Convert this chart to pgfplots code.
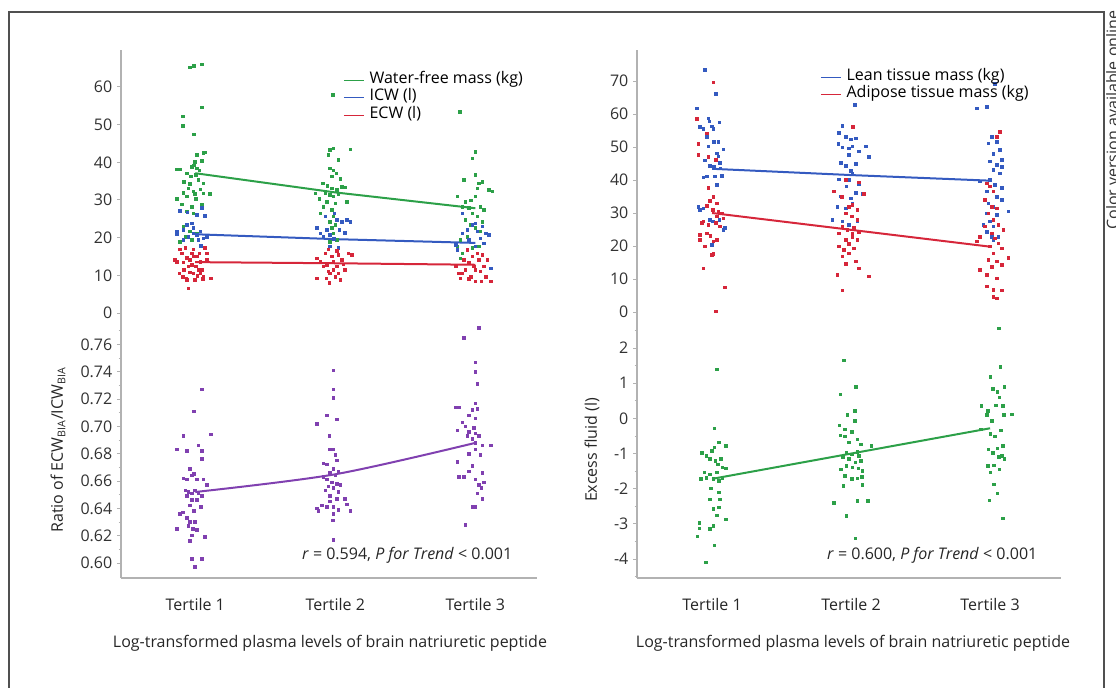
\documentclass[border=0pt]{standalone}
\usepackage{fontspec}
\setmainfont{Open Sans}
\usepackage{pgfplots}
\pgfplotsset{compat=1.18}

\definecolor{cgreen}{RGB}{44,160,72}
\definecolor{cblue}{RGB}{52,90,192}
\definecolor{cred}{RGB}{214,38,58}
\definecolor{cpurple}{RGB}{128,64,176}
\definecolor{axgray}{RGB}{178,178,178}
\definecolor{txtgray}{RGB}{50,50,50}
\definecolor{framegray}{RGB}{80,80,80}

\newcommand{\lbl}{\fontsize{12pt}{14pt}\selectfont}

\pgfplotsset{
  panel/.style={
    scale only axis,
    axis y line*=left,
    axis line style={draw=axgray, line width=0.8pt, -},
    ytick style={draw=axgray, line width=0.7pt},
    xtick style={draw=none},
    major tick length=3pt, minor tick length=1.8pt,
    tick align=outside,
    ticklabel style={font=\lbl, text=txtgray},
    /pgf/number format/assume math mode=true,
    xtick={1,2,3},
    xticklabels={Tertile 1,Tertile 2,Tertile 3},
    xticklabel style={yshift=-9pt, text=black!85},
    clip=false,
    legend cell align=left,
    legend image code/.code={\draw[#1, line width=0.6pt] (0pt,0pt) -- (15pt,0pt);},
    legend style={draw=none, fill=none, inner sep=0pt, font=\lbl,
      nodes={inner sep=0pt, text height=9pt, text depth=4.1pt},
      column sep=4pt, row sep=0pt},
  },
  upper/.style={panel, axis x line=none, height=202.5pt},
  lower/.style={panel, axis x line*=bottom, height=193.5pt},
  dots/.style={only marks, mark=square*, mark size=0.95pt, forget plot,
    color=#1, mark options={draw=#1, fill=#1, line width=0pt}},
  trend/.style={#1, line width=1.5pt, no marks, forget plot},
}

\begin{document}
\begin{tikzpicture}[x=0.75pt, y=0.75pt]
\useasboundingbox (0,0) rectangle (1116,-688);
\coordinate (ul) at (121,-320);
\coordinate (ll) at (121,-578);
\coordinate (ur) at (637,-320);
\coordinate (lr) at (637,-578);

% outer frame
\draw[framegray, line width=1.1pt] (9,-700) -- (9,-12) -- (1104,-12) -- (1104,-700);
\node[rotate=90, anchor=north west, inner sep=0pt, font=\lbl, text=txtgray]
  at (1106,-230) {Color version available online};

% ---------- left, top: body water ----------
\begin{axis}[upper, at={(ul)}, anchor=south west, width=312pt,
  xmin=0.47, xmax=3.44, ymin=-1.86, ymax=69.8,
  ytick={0,10,...,60},
  legend style={at={(0.534,0.922)}, anchor=north west}]
\addplot[dots=cgreen] coordinates {
 (0.964,65.2) (0.993,65.5) (1.048,65.9) (1.048,54.5) (0.912,52.1) (0.912,49.7)
 (0.993,47.4) (1.060,42.4) (1.012,41.9) (1.071,42.6) (1.000,40.1) (1.048,40.4)
 (0.869,38.1) (0.893,38.1) (0.976,38.8) (0.993,39.2) (1.012,38.4) (1.031,37.8)
 (0.940,37.0) (0.969,36.2) (1.007,36.6) (0.921,34.8) (0.964,34.2) (1.024,35.3)
 (1.060,34.4) (0.952,33.1) (0.988,32.2) (1.036,32.8) (0.917,31.9) (1.000,31.6)
 (1.060,31.7) (1.107,31.6) (0.869,30.2) (0.940,30.9) (1.007,30.2) (0.905,28.8)
 (0.976,28.2) (1.048,28.6) (0.940,26.9) (0.988,26.4) (0.917,22.9) (0.964,21.6)
 (1.012,21.1) (0.929,20.2) (0.976,19.4) (0.893,18.9)
 (1.964,43.2) (1.988,43.7) (2.107,43.4) (1.952,41.9) (2.024,40.6) (1.964,38.4)
 (1.988,37.8) (2.007,37.0) (1.976,36.2) (2.036,35.5) (1.912,34.4) (1.945,33.7)
 (1.976,33.1) (2.012,32.6) (2.048,33.5) (2.071,33.3) (1.857,31.7) (1.929,31.9)
 (1.964,31.3) (1.988,30.9) (2.024,31.6) (1.888,30.2) (1.940,29.5) (2.000,29.1)
 (2.083,29.5) (1.917,28.2) (1.976,27.3) (1.893,26.4) (1.988,25.6) (1.964,24.2)
 (2.000,23.3) (1.976,22.5) (1.988,21.1) (1.964,18.9) (2.012,19.4) (1.983,57.8)
 (2.890,53.4) (3.002,42.8) (2.979,41.0) (3.002,36.6) (2.919,35.3) (3.026,34.4)
 (3.050,34.8) (3.098,32.6) (3.121,32.2) (3.014,33.1) (2.871,30.9) (2.931,29.5)
 (2.967,29.9) (3.002,30.9) (2.907,28.2) (2.955,27.8) (3.038,28.2) (3.062,27.3)
 (2.979,26.4) (3.014,25.6) (2.931,24.7) (3.050,24.2) (2.967,23.3) (3.002,22.5)
 (3.038,21.6) (2.943,20.2) (2.895,19.4) (2.871,17.6) (2.979,17.2) (3.026,17.6)
 (2.895,14.5) (2.907,15.8)
};
\addplot[dots=cblue] coordinates {
 (0.893,27.1) (0.945,26.7) (1.012,26.0) (1.048,27.8) (1.071,25.7) (0.869,21.6)
 (0.869,20.9) (0.917,22.0) (0.940,23.3) (0.976,23.8) (0.988,22.5) (1.012,20.7)
 (1.036,21.6) (1.060,19.8) (1.083,20.2) (0.952,20.2) (0.988,21.1) (1.024,19.4)
 (0.917,19.4) (1.040,17.8)
 (1.869,22.5) (1.893,21.1) (1.940,22.0) (1.964,20.7) (2.012,24.7) (2.048,24.2)
 (2.083,24.7) (2.107,24.2) (2.071,21.3) (1.990,19.6) (2.031,22.0) (1.929,25.6)
 (1.993,26.4) (1.917,20.2) (1.964,17.6) (2.024,17.2)
 (2.860,18.0) (2.871,16.7) (2.907,21.1) (2.943,22.0) (2.979,23.3) (3.002,23.8)
 (3.014,21.6) (3.050,22.9) (3.074,21.1) (3.098,20.7) (3.062,18.5) (3.038,19.8)
 (2.955,19.4) (3.002,17.6) (3.110,11.8) (2.907,26.4)
};
\addplot[dots=cred] coordinates {
 (0.857,14.1) (0.869,13.6) (0.893,16.9) (0.905,15.8) (0.921,11.4) (0.936,9.2)
 (0.940,8.8) (0.952,6.5) (0.964,14.1) (0.976,12.7) (0.988,10.5) (0.993,15.0)
 (1.007,12.3) (1.017,9.8) (1.031,15.8) (1.036,13.6) (1.048,11.4) (1.060,9.5)
 (1.071,17.3) (1.083,14.1) (1.055,9.0) (1.112,9.2) (0.888,10.5) (0.912,9.5)
 (0.964,10.7) (1.000,8.8) (0.940,14.6) (0.976,15.8) (1.012,15.0) (0.917,13.4)
 (0.952,12.3) (1.024,11.4) (1.083,15.8) (0.929,17.3) (0.988,16.9) (1.036,10.5)
 (1.869,14.5) (1.893,13.6) (1.929,15.8) (1.940,12.7) (1.952,11.0) (1.964,10.5)
 (1.976,15.0) (1.988,13.6) (2.000,9.6) (2.012,12.3) (2.024,15.4) (2.036,8.8)
 (2.048,14.1) (2.071,11.4) (2.095,15.8) (2.119,15.4) (1.960,7.9) (1.988,11.4)
 (1.936,9.2) (2.024,10.5) (1.917,12.3) (2.060,12.9) (1.869,9.2) (1.952,16.9)
 (2.012,16.5)
 (2.860,12.3) (2.883,10.5) (2.895,9.2) (2.919,14.1) (2.931,11.4) (2.955,13.2)
 (2.967,9.6) (2.979,15.0) (2.990,12.3) (3.002,8.3) (3.014,15.8) (3.026,14.1)
 (3.038,11.0) (3.050,15.4) (3.062,12.3) (3.074,9.6) (3.086,14.1) (3.110,8.3)
 (2.943,16.7) (2.907,10.5) (3.002,11.4) (2.955,9.0) (3.045,8.3)
};
\addplot[trend=cgreen] coordinates {(1,37.1) (2,32.0) (3,27.8)};
\addplot[trend=cblue] coordinates {(1,20.9) (2,19.6) (3,18.6)};
\addplot[trend=cred] coordinates {(1,13.5) (2,13.2) (3,12.8)};
\addlegendimage{cgreen}\addlegendentry{Water-free mass (kg)}
\addlegendimage{cblue}\addlegendentry{ICW (l)}
\addlegendimage{cred}\addlegendentry{ECW (l)}
\end{axis}

% ---------- left, bottom: ECW/ICW ratio ----------
\begin{axis}[lower, at={(ll)}, anchor=south west, width=312pt,
  xmin=0.47, xmax=3.44, ymin=0.589, ymax=0.778,
  ytick={0.60,0.62,...,0.77},
  minor ytick={0.61,0.63,...,0.775},
  yticklabel style={/pgf/number format/.cd, fixed, fixed zerofill, precision=2}]
\addplot[dots=cpurple] coordinates {
 (1.048,0.727) (0.993,0.711) (0.917,0.693) (1.112,0.694) (0.869,0.683) (0.940,0.682)
 (1.024,0.686) (1.048,0.682) (1.048,0.676) (0.964,0.669) (0.917,0.662) (0.940,0.661)
 (0.976,0.664) (0.993,0.665) (1.012,0.661) (1.060,0.661) (1.083,0.657) (0.929,0.653)
 (0.952,0.652) (0.976,0.651) (1.000,0.653) (1.024,0.651) (1.048,0.649) (0.940,0.649)
 (0.976,0.646) (1.012,0.646) (0.964,0.642) (1.040,0.641) (0.893,0.636) (0.912,0.637)
 (0.940,0.633) (0.993,0.638) (0.964,0.630) (1.000,0.630) (0.952,0.627) (0.983,0.625)
 (0.869,0.625) (1.012,0.624) (0.976,0.620) (1.071,0.619) (0.964,0.616) (0.976,0.603)
 (1.048,0.603) (1.000,0.597)
 (1.988,0.741) (1.988,0.727) (1.988,0.721) (1.940,0.708) (2.012,0.705) (1.869,0.702)
 (1.960,0.693) (1.964,0.683) (1.988,0.683) (2.000,0.679) (2.012,0.675) (1.917,0.673)
 (1.940,0.672) (1.988,0.669) (2.024,0.667) (1.964,0.666) (2.000,0.664) (1.917,0.663)
 (1.940,0.661) (1.976,0.659) (2.012,0.658) (2.036,0.657) (1.952,0.656) (1.988,0.655)
 (2.024,0.652) (1.929,0.653) (1.964,0.649) (2.012,0.647) (2.071,0.647) (1.964,0.645)
 (2.083,0.643) (1.905,0.642) (1.940,0.641) (1.988,0.641) (1.869,0.640) (2.024,0.639)
 (1.881,0.638) (1.988,0.636) (2.107,0.638) (1.983,0.631) (1.988,0.617)
 (3.026,0.772) (2.919,0.765) (3.002,0.747) (3.002,0.740) (3.014,0.731) (2.860,0.714)
 (2.883,0.714) (2.979,0.712) (3.002,0.717) (3.014,0.713) (2.955,0.708) (3.002,0.706)
 (2.907,0.703) (2.931,0.700) (2.990,0.699) (2.871,0.697) (2.955,0.696) (3.002,0.695)
 (2.943,0.693) (2.979,0.691) (3.026,0.693) (3.002,0.688) (3.050,0.686) (3.110,0.686)
 (3.002,0.683) (2.955,0.680) (3.038,0.679) (2.871,0.674) (2.979,0.671) (2.955,0.667)
 (3.050,0.666) (2.883,0.663) (2.919,0.663) (3.002,0.661) (3.062,0.659) (3.026,0.657)
 (3.045,0.655) (3.014,0.651) (3.050,0.647) (2.979,0.641) (3.002,0.641) (2.931,0.628)
};
\addplot[trend=cpurple, smooth] coordinates {(1,0.652) (2,0.665) (3,0.688)};
\end{axis}

% ---------- right, top: tissue mass ----------
\begin{axis}[upper, at={(ur)}, anchor=south west, width=318pt,
  xmin=0.46, xmax=3.51, ymin=-2.42, ymax=79.4,
  ytick={0,10,...,70},
  legend style={at={(0.432,0.933)}, anchor=north west}]
\addplot[dots=cblue] coordinates {
 (0.950,73.3) (1.029,66.0) (0.890,61.7) (0.914,56.0) (0.974,58.7) (0.981,57.7)
 (0.998,56.2) (1.053,57.4) (0.938,55.4) (1.010,55.4) (0.962,53.1) (1.014,51.6)
 (1.046,51.6) (0.974,50.1) (1.082,49.3) (1.034,48.1) (0.950,45.9) (1.046,47.1)
 (1.058,45.1) (1.062,43.5) (1.014,44.0) (0.986,44.2) (0.938,40.8) (0.962,41.0)
 (1.022,41.0) (1.070,41.2) (1.034,38.5) (0.902,31.9) (0.914,30.9) (0.938,31.4)
 (0.986,27.9) (1.005,27.4) (1.053,27.9) (1.094,25.4) (1.082,24.8) (0.998,20.3)
 (2.029,62.7) (1.938,56.4) (2.010,56.0) (1.914,54.3) (1.962,53.1) (1.998,52.3)
 (2.034,52.6) (1.909,50.9) (1.938,49.9) (1.986,49.6) (2.010,50.1) (2.106,50.1)
 (2.058,48.6) (1.986,47.6) (2.129,46.9) (1.926,45.1) (1.962,44.2) (2.034,44.8)
 (1.998,42.8) (2.010,41.8) (1.914,40.2) (1.986,40.0) (2.058,38.8) (1.966,38.0)
 (2.034,36.0) (1.926,35.0) (2.082,35.8) (1.998,34.4) (1.902,31.9) (1.962,31.4)
 (2.010,32.9) (1.866,27.9) (1.938,27.4) (2.046,27.4) (1.986,26.4)
 (2.904,61.7) (2.976,62.2) (3.036,69.1) (3.012,53.1) (3.048,51.6) (2.988,51.1)
 (3.072,49.1) (3.024,47.9) (3.084,46.1) (3.000,45.6) (3.048,44.5) (3.084,44.0)
 (3.024,43.0) (3.072,42.0) (3.000,40.0) (2.928,39.5) (3.036,38.5) (3.084,37.5)
 (2.976,36.5) (3.048,34.9) (3.084,33.9) (2.988,32.9) (3.024,31.9) (3.132,30.4)
 (2.976,29.9) (3.048,29.4) (3.000,27.4) (2.952,26.4) (3.024,25.9) (2.976,24.3)
 (3.012,22.8) (3.060,22.8) (3.024,21.8)
};
\addplot[dots=cred] coordinates {
 (1.010,69.5) (0.890,58.5) (0.962,54.1) (0.902,50.9) (0.902,47.6) (0.974,46.9)
 (1.029,46.1) (0.974,37.5) (1.010,34.9) (0.986,33.7) (1.034,32.9) (0.962,32.1)
 (1.005,30.9) (1.046,30.4) (1.070,29.9) (0.938,27.4) (0.926,26.9) (0.974,26.4)
 (1.029,26.9) (1.058,25.9) (0.962,23.8) (0.990,23.0) (0.914,23.3) (1.034,21.8)
 (1.010,21.3) (0.950,19.8) (1.010,17.6) (0.998,17.3) (0.938,13.2) (1.094,7.5)
 (1.029,0.1) (1.034,28.9) (1.082,28.4) (0.914,21.8)
 (2.014,56.0) (1.962,40.0) (2.058,39.2) (1.878,36.5) (1.933,34.8) (2.094,35.8)
 (1.986,31.9) (2.010,32.4) (2.046,30.9) (1.962,29.9) (2.005,28.9) (2.046,27.9)
 (1.938,25.9) (1.974,24.8) (2.022,25.4) (2.058,24.3) (1.914,23.8) (2.010,22.8)
 (1.962,21.8) (2.046,21.8) (1.986,20.6) (1.914,19.8) (2.022,19.3) (1.950,18.8)
 (1.986,17.8) (1.938,16.8) (2.034,15.3) (1.962,14.5) (2.058,13.2) (1.902,11.2)
 (2.129,10.7) (1.938,6.5) (2.010,23.8)
 (3.072,54.6) (3.048,53.1) (2.976,39.0) (3.000,38.0) (3.024,36.5) (2.964,33.9)
 (3.012,31.9) (3.048,31.4) (2.988,29.9) (3.024,27.9) (3.060,26.4) (2.964,25.9)
 (3.096,24.8) (3.012,23.8) (2.928,22.8) (3.036,22.3) (2.904,21.3) (3.060,20.8)
 (3.000,19.8) (3.084,19.3) (3.024,17.8) (3.132,16.3) (2.988,15.8) (3.048,15.3)
 (3.084,14.2) (3.012,13.7) (2.928,12.7) (2.976,11.2) (3.048,10.2) (2.976,7.7)
 (3.024,6.7) (3.084,6.5) (3.048,4.1) (3.024,4.6)
};
\addplot[trend=cblue] coordinates {(1,43.4) (2,41.5) (3,39.8)};
\addplot[trend=cred] coordinates {(1,30.0) (2,24.9) (3,19.8)};
\addlegendimage{cblue}\addlegendentry{Lean tissue mass (kg)}
\addlegendimage{cred}\addlegendentry{Adipose tissue mass (kg)}
\end{axis}

% ---------- right, bottom: excess fluid ----------
\begin{axis}[lower, at={(lr)}, anchor=south west, width=318pt,
  xmin=0.46, xmax=3.51, ymin=-4.54, ymax=2.8,
  ytick={-4,-3,...,2},
  minor ytick={-4.5,-3.5,...,2.5}]
\addplot[dots=cgreen] coordinates {
 (1.037,1.39) (1.016,-0.29) (1.050,-0.69) (1.101,-0.78) (1.016,-0.83) (0.998,-0.93)
 (0.929,-0.99) (0.960,-1.07) (0.986,-1.15) (1.024,-1.21) (1.063,-1.16) (1.042,-1.31)
 (1.076,-1.40) (1.101,-1.43) (0.947,-1.54) (0.986,-1.59) (1.037,-1.54) (0.921,-1.73)
 (0.960,-1.69) (1.011,-1.73) (1.050,-1.78) (1.076,-1.71) (0.991,-2.00) (1.050,-2.11)
 (0.986,-2.30) (1.058,-2.30) (1.011,-2.57) (1.050,-2.54) (1.037,-2.76) (1.101,-2.87)
 (0.908,-2.98) (0.908,-3.13) (0.986,-3.15) (1.011,-3.06) (0.896,-3.36) (1.016,-3.61)
 (0.955,-4.10)
 (1.950,1.65) (1.924,0.68) (2.037,0.90) (2.027,0.21) (1.975,0.09) (2.027,-0.08)
 (1.916,-0.20) (1.955,-0.31) (2.006,-0.39) (1.924,-0.48) (1.958,-0.52) (2.045,-0.60)
 (2.070,-0.74) (1.986,-0.69) (2.148,-0.79) (1.968,-0.98) (2.006,-1.02) (2.045,-0.96)
 (2.058,-1.07) (1.942,-1.09) (1.986,-1.16) (2.032,-1.26) (2.070,-1.21) (1.929,-1.45)
 (1.968,-1.35) (2.011,-1.40) (2.053,-1.43) (2.083,-1.50) (1.955,-1.64) (2.006,-1.73)
 (2.045,-1.71) (2.078,-1.66) (1.947,-1.92) (2.083,-1.90) (1.878,-2.41) (2.045,-2.35)
 (2.122,-2.35) (1.968,-2.77) (2.032,-3.42)
 (3.062,2.56) (3.075,1.47) (3.003,1.18) (3.021,0.84) (3.054,0.75) (3.105,0.90)
 (3.067,0.59) (2.938,0.35) (2.985,0.21) (3.041,0.37) (3.093,0.35) (3.100,0.09)
 (3.157,0.11) (2.977,0.09) (3.015,-0.08) (3.080,-0.34) (2.933,-0.31) (3.003,-0.45)
 (3.036,-0.52) (3.093,-0.79) (3.054,-0.85) (2.990,-0.88) (3.021,-0.98) (3.087,-1.07)
 (3.105,-1.15) (3.062,-1.09) (2.985,-1.35) (3.067,-1.45) (3.003,-1.54) (3.028,-1.88)
 (3.054,-2.14) (2.997,-2.33) (3.093,-2.85) (3.028,-1.34)
};
\addplot[trend=cgreen] coordinates {(1,-1.72) (2,-1.00) (3,-0.28)};
\end{axis}

% axis titles and notes
\node[rotate=90, font=\lbl, text=black!85] at (58,-450)
  {Ratio of ECW\textsubscript{BIA}/ICW\textsubscript{BIA}};
\node[rotate=90, font=\lbl, text=black!85] at (592,-450) {Excess fluid (l)};
\node[font=\lbl, text=black!85] at (330,-643)
  {Log-transformed plasma levels of brain natriuretic peptide};
\node[font=\lbl, text=black!85] at (853,-643)
  {Log-transformed plasma levels of brain natriuretic peptide};
\node[font=\lbl, text=black!85, anchor=east] at (517,-555)
  {\textit{r} = 0.594, \textit{P for Trend} < 0.001};
\node[font=\lbl, text=black!85, anchor=east] at (1042,-555)
  {\textit{r} = 0.600, \textit{P for Trend} < 0.001};
\end{tikzpicture}
\end{document}
